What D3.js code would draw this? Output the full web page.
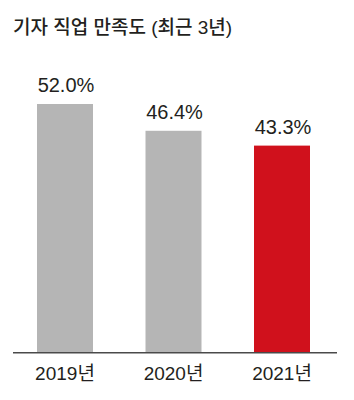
<!DOCTYPE html>
<html><head><meta charset="utf-8">
<script src="https://cdn.jsdelivr.net/npm/d3@7"></script>
<style>body{margin:0;background:#fff}svg{display:block}</style>
</head><body>
<svg id="c" width="354" height="400"></svg>
<script>
const categories = ["2019년", "2020년", "2021년"];
const values = [52.0, 46.4, 43.3];
const barColors = ["#b5b5b5", "#b5b5b5", "#d0111c"];
const title = "기자 직업 만족도 (최근 3년)";

const svg = d3.select("#c");
const font = "'Liberation Sans', 'Noto Sans CJK KR', sans-serif";
const baseY = 352.7;
const x = d3.scaleBand().domain(categories).range([-17.25, 364.25]).paddingInner(0.484).paddingOuter(0.5);
const y = d3.scaleLinear().domain([0, 52]).range([baseY, 104]);

svg.append("text").attr("x", 13).attr("y", 34)
  .attr("font-family", font).attr("font-size", 19).attr("font-weight", 500)
  .attr("fill", "#231f20").text(title);

svg.selectAll("rect.bar").data(values).join("rect").attr("class", "bar")
  .attr("x", (d, i) => x(categories[i])).attr("width", x.bandwidth())
  .attr("y", d => y(d)).attr("height", d => baseY - y(d))
  .attr("fill", (d, i) => barColors[i]);

svg.selectAll("text.val").data(values).join("text").attr("class", "val")
  .attr("x", (d, i) => x(categories[i]) + x.bandwidth() / 2 + 1)
  .attr("y", d => y(d) - 12)
  .attr("text-anchor", "middle").attr("font-family", font).attr("font-size", 20)
  .attr("fill", "#231f20").text(d => d.toFixed(1) + "%");

const axis = d3.axisBottom(x).tickSize(0).tickPadding(14);
const g = svg.append("g").attr("transform", `translate(0,${baseY})`).call(axis);
g.select(".domain").attr("d", "M13,0H337").attr("stroke", "#4a4a4a").attr("stroke-width", 1.5);
g.selectAll(".tick text").attr("font-family", font).attr("font-size", 19).attr("fill", "#231f20").attr("dy", "0.71em");
</script>
</body></html>
